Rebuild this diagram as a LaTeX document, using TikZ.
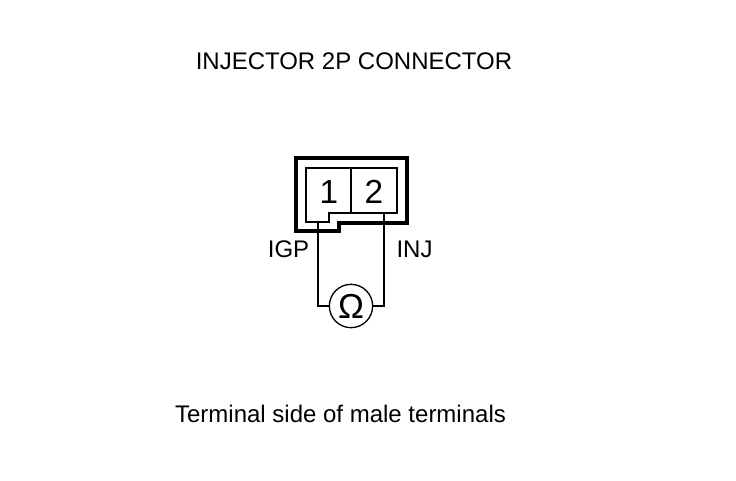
\documentclass[tikz,border=0pt]{standalone}
\usepackage{fontspec}
\setmainfont{Liberation Sans}
\usepackage{tikz}
\usetikzlibrary{positioning,calc}

\begin{document}
\begin{tikzpicture}[
    x=0.75pt, y=-0.75pt,
    housing/.style={draw, line width=2.6pt, line join=miter},
    terminal/.style={draw, line width=1.4pt, line join=miter},
    wire/.style={draw, line width=1.3pt},
    caption/.style={font=\fontsize{18}{20}\selectfont, inner sep=0pt},
    pinlabel/.style={font=\fontsize{18}{20}\selectfont, inner sep=0pt},
    number/.style={font=\fontsize{25}{28}\selectfont, inner sep=0pt, anchor=base},
    meter/.style={circle, draw, line width=1pt, minimum size=32.5pt, inner sep=0pt, font=\fontsize{26}{28}\selectfont}
]
\useasboundingbox (0,0) rectangle (736,480);
% Captions
\node[caption] (title) at (354,61) {INJECTOR 2P CONNECTOR};
\node[caption] (side) at (340.5,414) {Terminal side of male terminals};
% Connector
\path[housing] (296,158) -- (407,158) -- (407,223) -- (339,223) -- (339,231) -- (296,231) -- cycle;
\path[terminal] (306,168) -- (397,168) -- (397,213) -- (329,213) -- (329,222) -- (306,222) -- cycle;
\path[terminal] (351,168) -- (351,213);
\node[number] (one) at (329,203) {1};
\node[number] (two) at (374,203) {2};
\coordinate (pinone) at (318,222);
\coordinate (pintwo) at (384,213);
% Meter
\node[meter] (ohm) at (351,306) {Ω};
\node[pinlabel] (igp) at (288.5,249) {IGP};
\node[pinlabel] (inj) at (414.5,249) {INJ};
% Wires
\path[wire] (pinone) |- (ohm);
\path[wire] (pintwo) |- (ohm);
\end{tikzpicture}
\end{document}
